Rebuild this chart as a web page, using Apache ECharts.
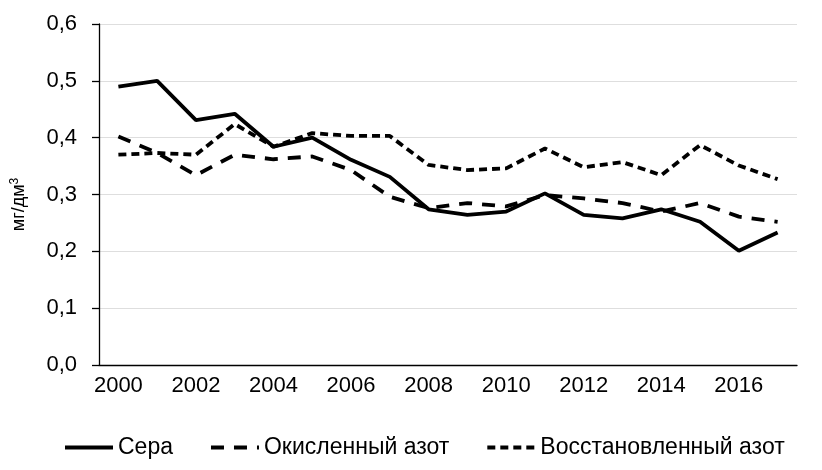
<!DOCTYPE html>
<html>
  <head>
    <meta charset="utf-8" />
    <title>Сера и азот</title>
    <script src="https://cdn.jsdelivr.net/npm/echarts@6/dist/echarts.min.js"></script>
    <style>
      body {
        margin: 0;
        padding: 0;
        background: #fff;
      }
      #main {
        width: 822px;
        height: 470px;
      }
    </style>
  </head>
  <body>
    <div id="main"></div>
    <script type="text/javascript">
      var years = [
        "2000", "2001", "2002", "2003", "2004", "2005", "2006", "2007", "2008",
        "2009", "2010", "2011", "2012", "2013", "2014", "2015", "2016", "2017",
      ];
      var sera = [
        0.49, 0.5, 0.431, 0.442, 0.384, 0.4, 0.361, 0.331, 0.274,
        0.264, 0.27, 0.302, 0.264, 0.258, 0.274, 0.252, 0.201, 0.233,
      ];
      var okislenny = [
        0.402, 0.373, 0.334, 0.37, 0.362, 0.367, 0.343, 0.296, 0.276,
        0.285, 0.279, 0.299, 0.293, 0.285, 0.27, 0.285, 0.261, 0.252,
      ];
      var vosstanovleny = [
        0.37, 0.373, 0.37, 0.424, 0.384, 0.408, 0.403, 0.403, 0.352,
        0.343, 0.346, 0.381, 0.348, 0.357, 0.334, 0.387, 0.351, 0.327,
      ];
      var seriesNames = ["Сера", "Окисленный азот", "Восстановленный азот"];

      var myChart = echarts.init(document.getElementById("main"));
      var font = "Liberation Sans, Arial, sans-serif";

      var option = {
        animation: false,
        textStyle: { fontFamily: font },
        grid: { left: 99, right: 25, top: 24, bottom: 105 },
        legend: {
          bottom: 6,
          left: 58,
          itemWidth: 48,
          itemHeight: 14,
          itemGap: 36,
          itemStyle: { opacity: 0 },
          lineStyle: { width: 4 },
          textStyle: { fontSize: 23, color: "#000", fontFamily: font },
          data: seriesNames,
        },
        xAxis: {
          type: "category",
          data: years,
          boundaryGap: true,
          axisLine: { lineStyle: { color: "#000", width: 1.3 } },
          axisTick: {
            interval: 0,
            length: 7,
            lineStyle: { color: "#000", width: 1.3 },
          },
          axisLabel: {
            interval: 1,
            color: "#000",
            fontSize: 22,
            margin: 10,
          },
          splitLine: { show: false },
        },
        yAxis: {
          type: "value",
          min: 0,
          max: 0.6,
          interval: 0.1,
          name: "{a|мг/дм}{b|3}",
          nameLocation: "middle",
          nameGap: 70,
          nameTextStyle: {
            color: "#000",
            padding: [0, 20, 0, 0],
            rich: {
              a: { fontSize: 18, color: "#000", fontFamily: font },
              b: {
                fontSize: 12,
                color: "#000",
                fontFamily: font,
                verticalAlign: "top",
                padding: [0, 0, 8, 0],
              },
            },
          },
          axisLine: { show: true, lineStyle: { color: "#000", width: 1.3 } },
          axisTick: {
            show: true,
            length: 7,
            lineStyle: { color: "#000", width: 1.3 },
          },
          axisLabel: {
            color: "#000",
            fontSize: 22,
            margin: 22,
            formatter: function (v) {
              return v.toFixed(1).replace(".", ",");
            },
          },
          splitLine: { lineStyle: { color: "#dedede", width: 1.2 } },
        },
        series: [
          {
            name: seriesNames[0],
            type: "line",
            data: sera,
            symbol: "none",
            lineStyle: { color: "#000", width: 3.8, type: "solid" },
            itemStyle: { color: "#000" },
          },
          {
            name: seriesNames[1],
            type: "line",
            data: okislenny,
            symbol: "none",
            lineStyle: { color: "#000", width: 3.8, type: [13, 10] },
            itemStyle: { color: "#000" },
          },
          {
            name: seriesNames[2],
            type: "line",
            data: vosstanovleny,
            symbol: "none",
            lineStyle: { color: "#000", width: 3.8, type: [8, 5] },
            itemStyle: { color: "#000" },
          },
        ],
      };

      myChart.setOption(option);
    </script>
  </body>
</html>
